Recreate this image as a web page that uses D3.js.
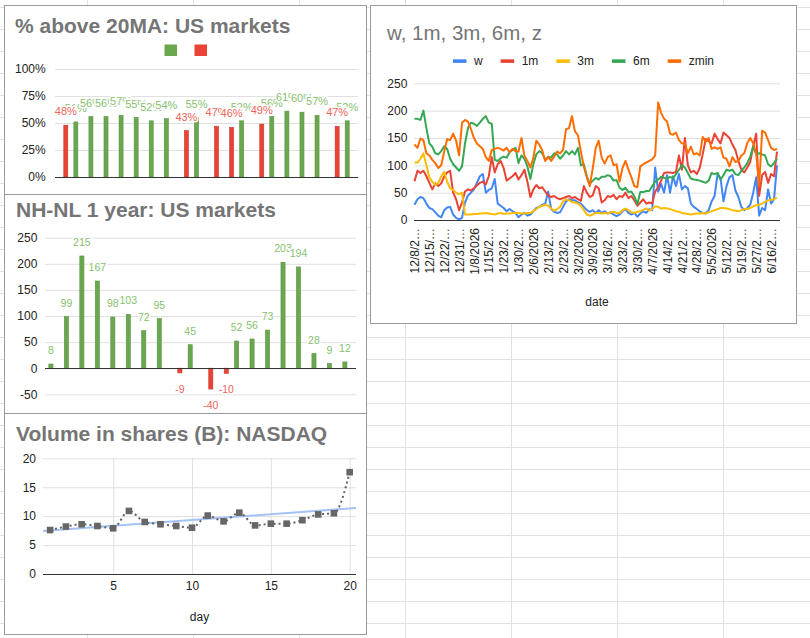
<!DOCTYPE html>
<html>
<head>
<meta charset="utf-8">
<script src="https://cdn.jsdelivr.net/npm/d3@7"></script>
<style>
  body { margin: 0; background: #fff; }
  svg { display: block; }
</style>
</head>
<body>
<div id="sheet"></div>
<script>
// ---- data: last 20 sessions ----
var days = [1, 2, 3, 4, 5, 6, 7, 8, 9, 10, 11, 12, 13, 14, 15, 16, 17, 18, 19, 20];

// % above 20MA (green = up day, red = down day)
var pctUp   = [null, 51, 56, 56, 57, 55, 52, 54, null, 55, null, null, 52, null, 56, 61, 60, 57, null, 52];
var pctDown = [48, null, null, null, null, null, null, null, 43, null, 47, 46, null, 49, null, null, null, null, 47, null];
var pctTicks = [0, 25, 50, 75, 100];

// NH-NL 1 year
var nhnlUp   = [8, 99, 215, 167, 98, 103, 72, 95, null, 45, null, null, 52, 56, 73, 203, 194, 28, 9, 12];
var nhnlDown = [null, null, null, null, null, null, null, null, -9, null, -40, -10, null, null, null, null, null, null, null, null];
var nhnlTicks = [-50, 0, 50, 100, 150, 200, 250];

// NASDAQ volume, billions of shares
var volume = [7.6, 8.2, 8.6, 8.3, 7.9, 10.9, 9.0, 8.6, 8.3, 8.0, 10.1, 9.1, 10.6, 8.4, 8.7, 8.7, 9.3, 10.3, 10.5, 17.6];
var volTicks = [0, 5, 10, 15, 20];
var dayTicks = [5, 10, 15, 20];

// w, 1m, 3m, 6m, zmin series (one value per session)
var dateLabels = ['12/8/2025', '12/15/2025', '12/22/2025', '12/31/2025', '1/8/2026', '1/15/2026', '1/23/2026',
    '1/30/2026', '2/6/2026', '2/13/2026', '2/23/2026', '3/2/2026', '3/9/2026', '3/16/2026', '3/23/2026',
    '3/30/2026', '4/7/2026', '4/14/2026', '4/21/2026', '4/28/2026', '5/5/2026', '5/12/2026', '5/19/2026',
    '5/27/2026', '6/16/2026'];
var wVals = [28,38,42,40,30,22,20,14,8,5,18,23,24,10,4,1,4,32,45,50,56,68,80,84,50,55,58,75,30,26,22,
    16,20,16,13,5,10,13,8,10,16,22,24,28,30,52,20,15,13,14,24,34,38,36,36,32,30,24,18,15,18,
    13,18,13,16,12,14,10,7,10,16,20,13,10,13,6,12,16,13,20,18,96,52,66,50,82,50,80,62,84,56,62,
    58,30,24,20,16,13,12,18,34,44,84,76,34,62,78,82,54,42,24,18,22,28,50,78,8,22,18,56,30,38,100];
var m1Vals = [71,90,86,90,80,68,56,67,62,67,80,87,90,50,38,18,32,52,56,54,58,63,68,70,65,80,115,87,102,108,95,
    72,76,80,86,74,82,92,70,42,56,64,58,60,52,45,42,44,40,38,40,42,44,40,42,38,35,62,50,42,45,
    62,58,32,36,44,42,46,38,44,42,50,40,44,36,26,32,38,30,32,30,52,60,72,86,87,87,86,88,118,92,150,
    100,87,90,84,95,120,148,144,140,158,148,140,160,155,150,138,128,108,92,87,96,106,135,158,44,82,88,68,84,80,125];
var m3Vals = [105,105,112,122,100,78,70,64,68,80,88,70,58,55,50,47,50,10,10,10,11,11,12,12,13,12,11,10,12,13,11,
    12,12,13,13,13,12,12,13,13,16,20,24,26,28,26,21,17,20,24,34,38,36,33,32,30,26,18,10,8,10,
    13,13,12,13,12,14,15,13,13,18,21,18,14,13,15,16,19,21,17,20,25,24,21,22,21,20,18,16,15,13,12,
    11,10,11,12,12,13,12,14,16,18,20,22,22,21,20,18,17,16,18,20,20,22,25,27,28,30,33,36,37,38,41];
var m6Vals = [185,185,183,200,168,140,134,122,120,126,135,130,112,102,96,90,98,140,168,178,176,172,178,185,190,178,176,110,108,113,116,
    114,124,128,132,104,118,112,98,75,102,120,126,122,110,116,114,122,120,112,118,126,120,126,120,132,100,102,80,66,72,
    77,74,79,79,82,80,72,73,59,55,59,51,52,43,29,51,51,53,53,62,70,74,79,77,76,79,76,84,92,100,96,
    86,76,74,73,72,70,68,72,86,84,86,74,82,92,90,92,84,82,90,96,104,116,135,120,122,120,118,102,98,104,112];
var zminVals = [138,132,149,146,122,118,110,104,95,100,125,148,146,158,145,118,178,183,180,166,150,140,135,130,115,108,128,130,132,130,127,
    132,124,130,126,125,150,117,108,96,114,145,138,127,108,115,108,116,125,122,128,166,168,190,162,155,125,98,78,62,95,
    132,145,114,103,115,118,100,102,70,95,108,92,78,62,60,98,102,105,108,111,118,215,196,185,180,158,156,160,146,140,140,
    122,134,120,122,118,152,143,150,130,133,130,133,114,112,98,115,106,108,118,122,141,150,140,122,62,163,160,146,132,128,130];
var lineTicks = [0, 50, 100, 150, 200, 250];

var FONT = 'Arial, "Liberation Sans", sans-serif';
var GREEN = '#6aa84f', RED = '#ea4335';

var svg = d3.select('#sheet').append('svg')
    .attr('width', 810).attr('height', 638)
    .attr('font-family', FONT);

// spreadsheet cell grid behind the charts
function drawSheet() {
    var grid = svg.append('g').attr('stroke', '#e2e2e2').attr('stroke-width', 1);
    d3.range(0, 8).forEach(function(k) {
        var x = Math.floor(87.7 + k * 105.95) + 0.5;
        grid.append('line').attr('x1', x).attr('x2', x).attr('y1', 0).attr('y2', 638);
    });
    d3.range(0, 29).forEach(function(k) {
        var y = Math.floor(7.3 + k * 22) + 0.5;
        grid.append('line').attr('x1', 0).attr('x2', 810).attr('y1', y).attr('y2', y);
    });
}

function addFrame(g, x, y, w, h) {
    g.append('rect')
        .attr('x', x).attr('y', y).attr('width', w).attr('height', h)
        .attr('fill', '#fff').attr('stroke', '#9a9a9a').attr('stroke-width', 1);
}

function addTitle(g, text, x, y, bold) {
    g.append('text')
        .attr('x', x).attr('y', y)
        .attr('fill', '#757575')
        .attr('font-size', bold ? 21 : 20.5)
        .attr('font-weight', bold ? 'bold' : 'normal')
        .text(text);
}

// left axis used as horizontal gridlines, like the sheets charts do
function addYAxis(g, y, ticks, left, right, pad, fmt) {
    var axis = d3.axisLeft(y).tickValues(ticks).tickSize(-(right - left)).tickPadding(pad).tickFormat(fmt);
    var ag = g.append('g').attr('transform', 'translate(' + left + ',0)').call(axis);
    ag.attr('font-family', FONT).attr('font-size', 12);
    ag.select('.domain').remove();
    ag.selectAll('.tick line').attr('stroke', '#e0e0e0');
    ag.selectAll('.tick text').attr('fill', '#222');
    return ag;
}

function addBaseline(g, y, left, right) {
    g.append('line')
        .attr('x1', left).attr('x2', right)
        .attr('y1', Math.round(y(0)) + 0.5).attr('y2', Math.round(y(0)) + 0.5)
        .attr('stroke', '#333').attr('stroke-width', 1);
}

/**
 * grouped up/down bar chart with value labels
 */
function drawBarChart(opt) {
    var g = svg.append('g');
    addFrame(g, opt.frame[0], opt.frame[1], opt.frame[2], opt.frame[3]);
    addTitle(g, opt.title, opt.titleX, opt.titleY, true);

    var x0 = d3.scaleBand().domain(days).range([opt.left, opt.right]).paddingInner(0.4).paddingOuter(0.25);
    var x1 = d3.scaleBand().domain(['up', 'down']).range([0, x0.bandwidth()]).paddingInner(0.2);
    var y = d3.scaleLinear().domain(opt.yDomain).range(opt.yRange);

    addYAxis(g, y, opt.ticks, opt.left, opt.right, opt.pad, opt.tickFmt);

    var series = [
        {key: 'up', values: opt.up, color: GREEN, edge: '#58913f', label: '#86bf6e'},
        {key: 'down', values: opt.down, color: RED, edge: '#c9382f', label: '#f06459'}
    ];
    var labels = [];
    series.forEach(function(s) {
        var pts = s.values.map(function(v, i) { return {day: days[i], v: v, s: s}; })
            .filter(function(d) { return d.v !== null; });
        labels = labels.concat(pts);
        g.selectAll(null).data(pts).enter().append('rect')
            .attr('x', function(d) { return x0(d.day) + x1(s.key); })
            .attr('width', x1.bandwidth())
            .attr('y', function(d) { return y(Math.max(0, d.v)); })
            .attr('height', function(d) { return Math.abs(y(d.v) - y(0)); })
            .attr('fill', s.color)
            .attr('stroke', s.edge).attr('stroke-width', 0.6);
    });
    addBaseline(g, y, opt.left, opt.right);

    // labels series by series, left to right: each white aura covers the one drawn before
    g.selectAll(null).data(labels).enter().append('text')
        .attr('x', function(d) { return x0(d.day) + x1(d.s.key) + x1.bandwidth() / 2; })
        .attr('y', function(d) { return d.v >= 0 ? y(d.v) - 10 : y(d.v) + 20; })
        .attr('text-anchor', 'middle')
        .attr('font-size', opt.labelSize)
        .attr('fill', function(d) { return d.s.label; })
        .attr('stroke', '#fff').attr('stroke-width', 3)
        .attr('stroke-linejoin', 'round').attr('paint-order', 'stroke')
        .text(function(d) { return opt.labelFmt(d.v); });
    return g;
}

function drawPctChart() {
    var g = drawBarChart({
        frame: [4.5, 5.5, 362, 189],
        title: '% above 20MA: US markets', titleX: 15, titleY: 33,
        left: 55, right: 358, yDomain: [0, 100], yRange: [177, 69],
        ticks: pctTicks, pad: 9.3,
        tickFmt: function(d) { return d + '%'; },
        up: pctUp, down: pctDown,
        labelSize: 11, labelFmt: function(v) { return v + '%'; }
    });
    // legend: two unlabeled series swatches
    g.append('rect').attr('x', 164.5).attr('y', 44.5).attr('width', 12.5).attr('height', 11.5).attr('fill', GREEN);
    g.append('rect').attr('x', 194.5).attr('y', 44.5).attr('width', 12.5).attr('height', 11.5).attr('fill', RED);
}

function drawNhnlChart() {
    drawBarChart({
        frame: [4.5, 194.5, 362, 219],
        title: 'NH-NL 1 year: US markets', titleX: 16, titleY: 217,
        left: 45, right: 356, yDomain: [-50, 250], yRange: [394.3, 237.7],
        ticks: nhnlTicks, pad: 7.7,
        tickFmt: function(d) { return String(d); },
        up: nhnlUp, down: nhnlDown,
        labelSize: 10.5, labelFmt: function(v) { return String(v); }
    });
}

function drawVolumeChart() {
    var g = svg.append('g');
    addFrame(g, 4.5, 413.5, 362, 221);
    addTitle(g, 'Volume in shares (B): NASDAQ', 16, 441, true);

    var left = 43, right = 356, top = 458.3, bottom = 574;
    var x = d3.scaleLinear().domain([0.55, 20.4]).range([left, right]);
    var y = d3.scaleLinear().domain([0, 20]).range([bottom, top]);

    addYAxis(g, y, volTicks, left, right, 7, function(d) { return String(d); });

    var xa = g.append('g').attr('transform', 'translate(0,' + bottom + ')')
        .call(d3.axisBottom(x).tickValues(dayTicks).tickSize(-(bottom - top)).tickPadding(7.5));
    xa.attr('font-family', FONT).attr('font-size', 12);
    xa.select('.domain').remove();
    xa.selectAll('.tick line').attr('stroke', '#e0e0e0');
    xa.selectAll('.tick text').attr('fill', '#222');
    addBaseline(g, y, left, right);

    // linear trendline (least squares over the points)
    var pts = volume.map(function(v, i) { return {day: days[i], v: v}; });
    var mx = d3.mean(pts, function(d) { return d.day; });
    var my = d3.mean(pts, function(d) { return d.v; });
    var slope = d3.sum(pts, function(d) { return (d.day - mx) * (d.v - my); }) /
                d3.sum(pts, function(d) { return (d.day - mx) * (d.day - mx); });
    var ends = x.domain().map(function(d) { return {day: d, v: my + slope * (d - mx)}; });
    var line = d3.line().x(function(d) { return x(d.day); }).y(function(d) { return y(d.v); });
    g.append('path').attr('d', line(ends))
        .attr('fill', 'none').attr('stroke', '#a4c2f4').attr('stroke-width', 2);

    g.append('path').attr('d', line.curve(d3.curveMonotoneX)(pts))
        .attr('fill', 'none').attr('stroke', '#616161').attr('stroke-width', 2)
        .attr('stroke-dasharray', '2,3');

    g.selectAll(null).data(pts).enter().append('rect')
        .attr('x', function(d) { return x(d.day) - 3.3; })
        .attr('y', function(d) { return y(d.v) - 3.3; })
        .attr('width', 6.6).attr('height', 6.6)
        .attr('fill', '#666');

    g.append('text').attr('x', (left + right) / 2).attr('y', 621)
        .attr('text-anchor', 'middle').attr('font-size', 12).attr('fill', '#222').text('day');
}

function shortLabel(s) {
    return s.length > 8 ? s.slice(0, 6) + '\u2026' : s;
}

function drawLineChart() {
    var g = svg.append('g');
    addFrame(g, 370.5, 5.5, 426, 318);
    addTitle(g, 'w, 1m, 3m, 6m, z', 387, 40, false);

    var left = 414, right = 780, top = 83.3, bottom = 220;
    var x = d3.scaleLinear().domain([0, wVals.length - 1]).range([414.5, 777]);
    var y = d3.scaleLinear().domain([0, 250]).range([bottom, top]);

    addYAxis(g, y, lineTicks, left, right, 6.7, function(d) { return String(d); });

    var tickIdx = dateLabels.map(function(d, k) { return k * 5; });
    var xa = g.append('g').attr('transform', 'translate(0,' + bottom + ')')
        .call(d3.axisBottom(x).tickValues(tickIdx).tickSize(0)
            .tickFormat(function(i) { return shortLabel(dateLabels[i / 5]); }));
    xa.attr('font-family', FONT).attr('font-size', 12);
    xa.select('.domain').remove();
    xa.selectAll('.tick text')
        .attr('fill', '#222')
        .attr('transform', 'rotate(-90)')
        .attr('text-anchor', 'end')
        .attr('x', -8).attr('y', 0).attr('dy', '0.35em');

    addBaseline(g, y, left, right);

    var series = [
        {name: 'w', values: wVals, color: '#4285f4'},
        {name: '1m', values: m1Vals, color: '#ea4335'},
        {name: '3m', values: m3Vals, color: '#fbbc04'},
        {name: '6m', values: m6Vals, color: '#34a853'},
        {name: 'zmin', values: zminVals, color: '#ff6d01'}
    ];
    var line = d3.line()
        .defined(function(d) { return d !== null; })
        .x(function(d, i) { return x(i); })
        .y(function(d) { return y(d); });
    series.forEach(function(s) {
        g.append('path').attr('d', line(s.values))
            .attr('fill', 'none').attr('stroke', s.color).attr('stroke-width', 2)
            .attr('stroke-linejoin', 'round');
    });

    // legend centred on the chart box
    var lg = g.append('g');
    var cx = 0;
    series.forEach(function(s, i) {
        var item = lg.append('g').attr('transform', 'translate(' + cx + ',0)');
        item.append('rect').attr('x', 0).attr('y', 59.3).attr('width', 13.5).attr('height', 3.6).attr('fill', s.color);
        var t = item.append('text').attr('x', 21).attr('y', 61).attr('dy', '0.35em')
            .attr('font-size', 12).attr('fill', '#222').text(s.name);
        cx += 21 + t.node().getComputedTextLength() + (i < series.length - 1 ? 18 : 0);
    });
    lg.attr('transform', 'translate(' + (583.5 - cx / 2) + ',0)');

    g.append('text').attr('x', (left + right) / 2).attr('y', 306)
        .attr('text-anchor', 'middle').attr('font-size', 12).attr('fill', '#222').text('date');
}

drawSheet();
drawPctChart();
drawNhnlChart();
drawVolumeChart();
drawLineChart();
</script>
</body>
</html>
